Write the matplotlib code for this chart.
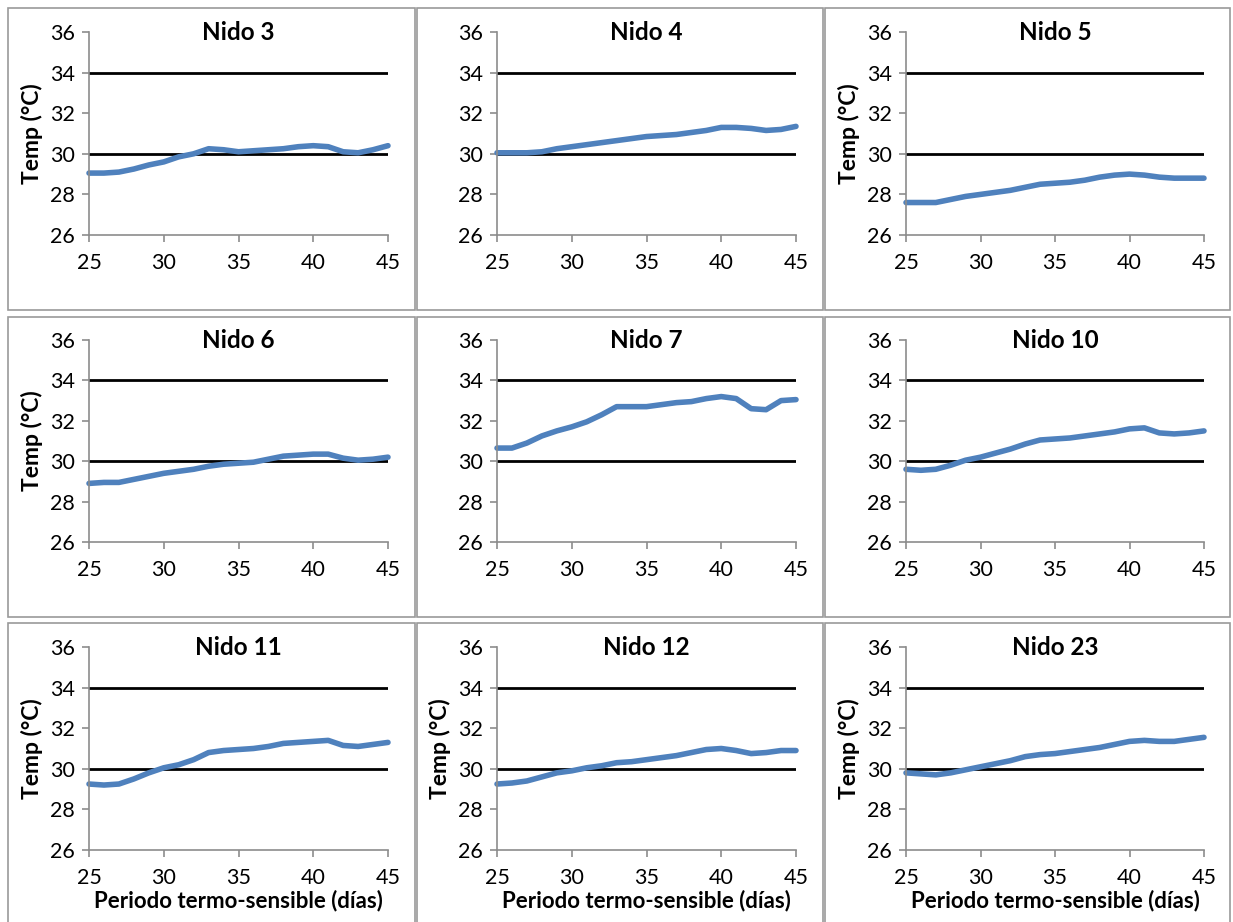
import numpy as np
import matplotlib
matplotlib.use("Agg")
import matplotlib.pyplot as plt
from matplotlib.patches import Rectangle

plt.rcParams['font.family'] = ['Lato', 'DejaVu Sans']

dias = np.arange(25, 46)

nidos = ["Nido 3", "Nido 4", "Nido 5",
         "Nido 6", "Nido 7", "Nido 10",
         "Nido 11", "Nido 12", "Nido 23"]

nido3 = [29.05, 29.05, 29.1, 29.25, 29.45, 29.6, 29.85, 30.0, 30.25, 30.2, 30.1,
         30.15, 30.2, 30.25, 30.35, 30.4, 30.35, 30.1, 30.05, 30.2, 30.4]
nido4 = [30.05, 30.05, 30.05, 30.1, 30.25, 30.35, 30.45, 30.55, 30.65, 30.75, 30.85,
         30.9, 30.95, 31.05, 31.15, 31.3, 31.3, 31.25, 31.15, 31.2, 31.35]
nido5 = [27.6, 27.6, 27.6, 27.75, 27.9, 28.0, 28.1, 28.2, 28.35, 28.5, 28.55,
         28.6, 28.7, 28.85, 28.95, 29.0, 28.95, 28.85, 28.8, 28.8, 28.8]
nido6 = [28.9, 28.95, 28.95, 29.1, 29.25, 29.4, 29.5, 29.6, 29.75, 29.85, 29.9,
         29.95, 30.1, 30.25, 30.3, 30.35, 30.35, 30.15, 30.05, 30.1, 30.2]
nido7 = [30.65, 30.65, 30.9, 31.25, 31.5, 31.7, 31.95, 32.3, 32.7, 32.7, 32.7,
         32.8, 32.9, 32.95, 33.1, 33.2, 33.1, 32.6, 32.55, 33.0, 33.05]
nido10 = [29.6, 29.55, 29.6, 29.8, 30.05, 30.2, 30.4, 30.6, 30.85, 31.05, 31.1,
          31.15, 31.25, 31.35, 31.45, 31.6, 31.65, 31.4, 31.35, 31.4, 31.5]
nido11 = [29.25, 29.2, 29.25, 29.5, 29.8, 30.05, 30.2, 30.45, 30.8, 30.9, 30.95,
          31.0, 31.1, 31.25, 31.3, 31.35, 31.4, 31.15, 31.1, 31.2, 31.3]
nido12 = [29.25, 29.3, 29.4, 29.6, 29.8, 29.9, 30.05, 30.15, 30.3, 30.35, 30.45,
          30.55, 30.65, 30.8, 30.95, 31.0, 30.9, 30.75, 30.8, 30.9, 30.9]
nido23 = [29.8, 29.75, 29.7, 29.8, 29.95, 30.1, 30.25, 30.4, 30.6, 30.7, 30.75,
          30.85, 30.95, 31.05, 31.2, 31.35, 31.4, 31.35, 31.35, 31.45, 31.55]
series = [nido3, nido4, nido5, nido6, nido7, nido10, nido11, nido12, nido23]

# which panels show the y label
con_ylabel = [True, False, True, True, False, False, True, True, True]
limites = [30, 34]

W, H = 1233, 922
fig = plt.figure(figsize=(W / 100, H / 100), dpi=100)

# panel frames (pixels)
cols_box = [(8, 415), (417, 823), (825, 1230)]
rows_box = [(8, 310), (317, 617), (623, 930)]
for (y0, y1) in rows_box:
    for (x0, x1) in cols_box:
        fig.patches.append(Rectangle((x0 / W, 1 - y1 / H), (x1 - x0) / W, (y1 - y0) / H,
                                     transform=fig.transFigure, fill=False,
                                     edgecolor='#9a9a9a', linewidth=1.2))

cols_ax = [(89, 388), (497, 796), (906, 1204)]
rows_ax = [(32, 235), (340, 542), (647, 850)]

for i in range(9):
    r, c = divmod(i, 3)
    x0, x1 = cols_ax[c]
    y0, y1 = rows_ax[r]
    ax = fig.add_axes([x0 / W, 1 - y1 / H, (x1 - x0) / W, (y1 - y0) / H])
    for lim in limites:
        ax.plot([dias[0], dias[-1]], [lim, lim], color='black', linewidth=2)
    ax.plot(dias, series[i], color='#4F81BD', linewidth=4, solid_capstyle='round',
            clip_on=False)
    ax.set_xlim(25, 45)
    ax.set_ylim(26, 36)
    ax.set_xticks([25, 30, 35, 40, 45])
    ax.set_yticks([26, 28, 30, 32, 34, 36])
    for s in ['top', 'right']:
        ax.spines[s].set_visible(False)
    for s in ['left', 'bottom']:
        ax.spines[s].set_color('#8c8c8c')
        ax.spines[s].set_linewidth(1.2)
    ax.tick_params(direction='out', length=5, width=1.2, color='#8c8c8c',
                   labelsize=15.5)
    ax.tick_params(axis='x', pad=8)
    ax.tick_params(axis='y', pad=5)
    ax.text(0.5, 1.0, nidos[i], transform=ax.transAxes, ha='center', va='center',
            fontsize=17.5, fontweight='bold')
    if con_ylabel[i]:
        ax.set_ylabel('Temp (°C)', fontsize=16.5, fontweight='bold', labelpad=5)
    if r == 2:
        ax.set_xlabel('Periodo termo-sensible (días)', fontsize=16, fontweight='bold', labelpad=1)

fig.savefig('out.png', dpi=100)
